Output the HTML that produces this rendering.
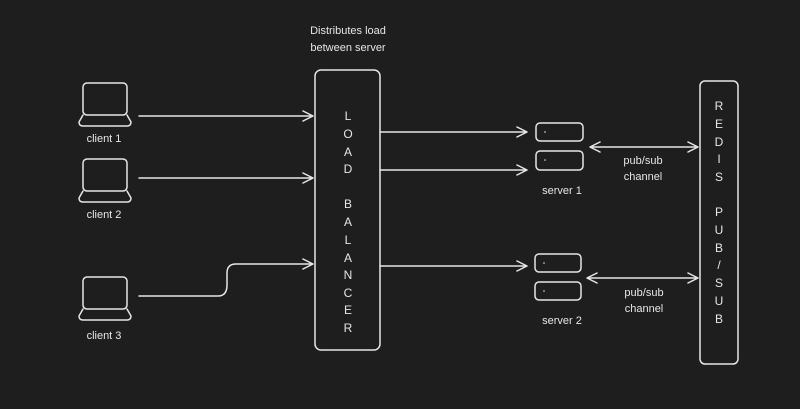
<!DOCTYPE html>
<html><head><style>
html,body{margin:0;padding:0;background:#1e1e1e;}
svg{display:block}
text{font-family:"Liberation Sans",sans-serif;fill:#e6e6e6;}
</style></head><body>
<svg width="800" height="409" viewBox="0 0 800 409" xmlns="http://www.w3.org/2000/svg">
<rect width="800" height="409" fill="#1e1e1e"/>
<g fill="none" stroke="#e6e6e6" stroke-width="1.5" stroke-linecap="round" stroke-linejoin="round">
<!-- laptops -->
<g id="lp"><rect x="83" y="83" width="44" height="32" rx="4"/><path d="M83 115 L79 122 Q79 126 83 126 L127 126 Q131 126 131 122 L127 115"/></g>
<use href="#lp" y="76"/>
<use href="#lp" y="194"/>
<!-- load balancer -->
<rect x="315" y="70" width="65" height="280" rx="6"/>
<!-- redis -->
<rect x="700" y="81" width="38" height="283" rx="5"/>
<!-- servers -->
<rect x="536" y="123" width="47" height="18" rx="4"/>
<rect x="536" y="151" width="47" height="19" rx="4"/>
<rect x="535" y="254" width="46" height="18" rx="4"/>
<rect x="535" y="282" width="46" height="18" rx="4"/>
<!-- arrows clients -->
<path d="M139 116 L313 116 M303 111 L313 116 L303 121"/>
<path d="M139 178 L313 178 M303 173 L313 178 L303 183"/>
<path d="M139 296 L218 296 Q227 296 227 285 L227 273 Q227 264 236 264 L313 264 M303 259 L313 264 L303 269"/>
<!-- LB to servers -->
<path d="M380 132 L527 132 M517 127 L527 132 L517 137"/>
<path d="M380 170 L527 170 M517 165 L527 170 L517 175"/>
<path d="M380 266 L527 266 M517 261 L527 266 L517 271"/>
<!-- double arrows -->
<path d="M590 147 L698 147 M600 142 L590 147 L600 152 M688 142 L698 147 L688 152"/>
<path d="M587 278 L698 278 M597 273 L587 278 L597 283 M688 273 L698 278 L688 283"/>
</g>
<g fill="#e6e6e6"><circle cx="545" cy="132" r="0.8"/><circle cx="545" cy="160" r="0.8"/><circle cx="544" cy="263" r="0.8"/><circle cx="544" cy="291" r="0.8"/></g>
<g font-size="11" text-anchor="middle">
<text x="104" y="142">client 1</text>
<text x="104" y="218">client 2</text>
<text x="104" y="339">client 3</text>
<text x="562" y="194">server 1</text>
<text x="562" y="324">server 2</text>
<text x="643" y="164">pub/sub</text>
<text x="643" y="180">channel</text>
<text x="644" y="296">pub/sub</text>
<text x="644" y="312">channel</text>
<text x="348" y="34">Distributes load</text>
<text x="348" y="51">between server</text>
</g>
<g font-size="12" text-anchor="middle">
<text x="348" y="120">L</text><text x="348" y="138">O</text><text x="348" y="156">A</text><text x="348" y="173">D</text>
<text x="348" y="208">B</text><text x="348" y="226">A</text><text x="348" y="244">L</text><text x="348" y="262">A</text><text x="348" y="279">N</text><text x="348" y="297">C</text><text x="348" y="314">E</text><text x="348" y="332">R</text>
<text x="719" y="110">R</text><text x="719" y="128">E</text><text x="719" y="146">D</text><text x="719" y="163">I</text><text x="719" y="181">S</text>
<text x="719" y="216">P</text><text x="719" y="234">U</text><text x="719" y="252">B</text><text x="719" y="269">/</text><text x="719" y="287">S</text><text x="719" y="305">U</text><text x="719" y="323">B</text>
</g>
</svg>
</body></html>
